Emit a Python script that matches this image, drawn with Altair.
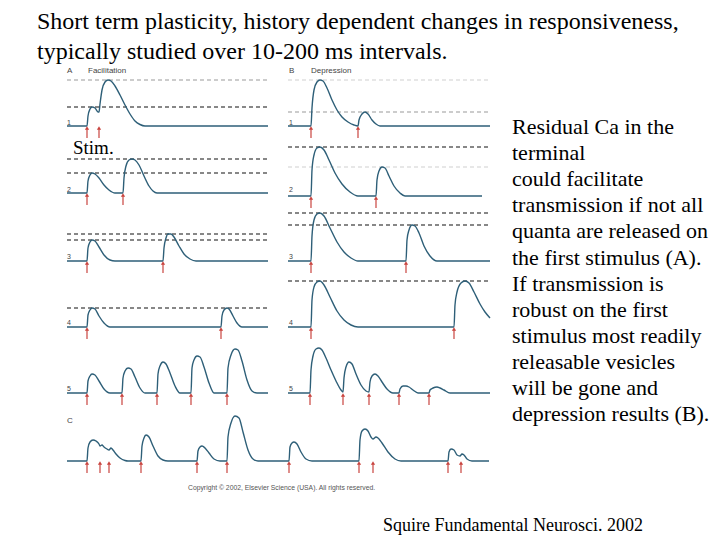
import altair as alt
import pandas as pd

# ---------------- data ----------------
TITLE_LINES = ["Short term plasticity, history dependent changes in responsiveness,",
               "typically studied over 10-200 ms intervals."]
RIGHT_LINES = ["Residual Ca in the", "terminal", "could facilitate",
               "transmission if not all", "quanta are released on",
               "the first stimulus  (A).", "If transmission is",
               "robust on the first", "stimulus most readily",
               "releasable vesicles", "will be gone and",
               "depression results (B)."]
SOURCE = "Squire Fundamental Neurosci. 2002"
COPYRIGHT = "Copyright \u00a9 2002, Elsevier Science (USA). All rights reserved."

# traces: time (x) and potential (y) samples, one list pair per trace
A1_t = [67, 87, 88, 90, 92, 95, 98, 99, 100, 102, 105, 108, 111, 115, 120, 125, 130, 135, 140, 145, 268]
A1_v = [126, 126, 116, 109, 107, 108, 112, 112, 104, 90, 82, 80, 81, 86, 95, 105, 114, 121, 124.5, 126, 126]
A2_t = [67, 87, 88, 90, 92, 95, 99, 104, 109, 115, 123, 124, 126, 129, 132, 135, 139, 144, 149, 153, 157, 268]
A2_v = [193, 193, 181, 175, 173, 174, 178, 185, 190, 193, 193, 178, 166, 160, 159, 160, 165, 176, 186, 191, 193, 193]
A3_t = [67, 87, 88, 90, 92, 95, 99, 104, 110, 115, 163, 164, 166, 168, 171, 174, 179, 184, 190, 196, 268]
A3_v = [261, 261, 248, 242, 240, 241, 247, 255, 260, 261, 261, 248, 238, 234, 234, 237, 246, 254, 259, 261, 261]
A4_t = [67, 87, 88, 90, 92, 95, 99, 104, 110, 221, 222, 224, 227, 229, 233, 237, 242, 268]
A4_v = [327, 327, 315, 310, 308, 309, 316, 323, 327, 327, 316, 310, 308, 309, 316, 323, 327, 327]
A5_t = [67, 87, 88, 90, 92, 95, 99, 104, 110, 122, 123, 125, 128, 131, 135, 140, 145, 157, 158, 160,
        163, 166, 170, 175, 180, 191, 192, 194, 197, 200, 204, 209, 214, 227, 228, 231, 235, 238,
        242, 247, 252, 257, 268]
A5_v = [393, 393, 381, 376, 374, 375, 381, 389, 393, 393, 378, 371, 368, 369, 377, 388, 393, 393, 374, 366,
        362, 364, 373, 386, 393, 393, 368, 360, 356, 357, 367, 383, 393, 393, 368, 355, 349, 350,
        361, 380, 391, 393, 393]
B1_t = [288, 311, 312, 314, 317, 320, 323, 327, 332, 337, 342, 348, 354, 358, 359, 362, 365, 368, 372, 376, 380, 490]
B1_v = [126, 126, 108, 90, 82, 80, 81, 88, 100, 110, 117, 122, 125, 126, 120, 114, 112, 114, 120, 124, 126, 126]
B2_t = [288, 311, 312, 314, 317, 320, 324, 329, 335, 342, 350, 358, 376, 377, 379, 382, 385, 389, 394, 400, 405, 482]
B2_v = [196, 196, 170, 155, 148, 147, 150, 160, 173, 184, 192, 196, 196, 180, 171, 167, 168, 176, 186, 193, 196, 196]
B3_t = [288, 311, 312, 314, 317, 320, 324, 330, 337, 344, 351, 358, 406, 407, 409, 412, 415, 419, 424, 430, 437, 490]
B3_v = [261, 261, 236, 220, 214, 213, 216, 228, 242, 252, 258, 261, 261, 240, 230, 225, 226, 233, 246, 256, 261, 261]
B4_t = [288, 311, 312, 314, 317, 320, 324, 330, 337, 344, 351, 358, 454, 455, 457, 461, 465, 469, 474, 480, 485, 490]
B4_v = [327, 327, 300, 287, 282, 281, 285, 297, 311, 320, 325, 327, 327, 305, 292, 283, 281, 283, 292, 304, 312, 318]
B5_t = [288, 310, 311, 313, 316, 319, 322, 326, 331, 336, 341, 343, 344, 346, 349, 352, 356, 361, 366, 369,
        370, 372, 375, 378, 382, 387, 393, 399, 400, 403, 406, 409, 413, 418, 429, 430, 433, 437, 440,
        444, 450, 490]
B5_v = [393, 393, 370, 356, 349, 348, 350, 358, 370, 381, 390, 392, 378, 367, 362, 364, 374, 385, 391, 392,
        382, 376, 374, 376, 382, 389, 393, 393, 389, 386, 386, 387, 390, 393, 393, 390, 388, 387, 388,
        390, 393, 393]
C_t = [67, 87, 88, 90, 93, 96, 99, 100, 102, 104, 107, 109, 111, 113, 116, 120, 125, 128, 141, 142, 144, 146,
       149, 153, 158, 163, 168, 197, 198, 200, 202, 205, 209, 214, 220, 227, 228, 231, 235, 239, 243, 248,
       253, 258, 289, 290, 292, 294, 297, 301, 306, 312, 359, 360, 362, 365, 368, 371, 373, 376, 378, 382,
       388, 395, 401, 448, 449, 451, 454, 457, 460, 462, 464, 467, 472, 489]
C_v = [461, 461, 448, 442, 440, 441, 444, 446, 445, 447, 449, 450, 448, 450, 454, 458, 460.5, 461, 461, 446, 438, 435,
       437, 446, 456, 460, 461, 461, 451, 447, 446, 448, 453, 459, 461, 461, 437, 423, 416, 418, 432, 450,
       459, 461, 461, 447, 443, 442, 444, 452, 459, 461, 461, 440, 431, 429, 431, 437, 439, 437, 438, 443,
       452, 459, 461, 461, 452, 449, 450, 455, 456, 454, 455, 459, 461, 461]

TRACES = {"A1": (A1_t, A1_v), "A2": (A2_t, A2_v), "A3": (A3_t, A3_v), "A4": (A4_t, A4_v),
          "A5": (A5_t, A5_v), "B1": (B1_t, B1_v), "B2": (B2_t, B2_v), "B3": (B3_t, B3_v),
          "B4": (B4_t, B4_v), "B5": (B5_t, B5_v), "C": (C_t, C_v)}

# stimulus times and the baseline of each trace
STIMS = {"A1": [87, 99], "A2": [87, 123], "A3": [87, 163], "A4": [87, 221],
         "A5": [87, 122, 157, 191, 227], "B1": [311, 358], "B2": [311, 376],
         "B3": [311, 406], "B4": [311, 454], "B5": [310, 343, 369, 399, 429],
         "C": [87, 100, 109, 141, 197, 227, 289, 359, 373, 448, 461]}
BASE = {"A1": 126, "A2": 193, "A3": 261, "A4": 327, "A5": 393,
        "B1": 126, "B2": 196, "B3": 261, "B4": 327, "B5": 393, "C": 461}

# reference (dashed) levels: trace, level, colour
DASH_LEVELS = [("A1", 80, "#9a9a9a"), ("A1", 107, "#111111"), ("A2", 159, "#111111"),
               ("A2", 173, "#111111"), ("A3", 234, "#111111"), ("A3", 240, "#111111"),
               ("A4", 308, "#111111"), ("B1", 80, "#d0d0d0"), ("B1", 112, "#9a9a9a"),
               ("B2", 147, "#111111"), ("B2", 167, "#d0d0d0"), ("B3", 213, "#111111"),
               ("B3", 225, "#111111"), ("B4", 281, "#111111")]
PANEL_SPAN = {"A": (67, 268), "B": (288, 490)}

# ---------------- build tables ----------------
rows = []
for name, (ts, vs) in TRACES.items():
    for i, (t, v) in enumerate(zip(ts, vs)):
        rows.append({"trace": name, "i": i, "t": t, "v": v})
trace_df = pd.DataFrame(rows)

arrow_df = pd.DataFrame([{"t": s, "tip": BASE[k] + 2, "tail": BASE[k] + 12}
                         for k, lst in STIMS.items() for s in lst])

dash_df = pd.DataFrame([{"x1": PANEL_SPAN[k[0]][0], "x2": PANEL_SPAN[k[0]][1], "y": lv, "c": c}
                        for k, lv, c in DASH_LEVELS])

XS = alt.Scale(domain=[8, 712], nice=False, zero=False)
YS = alt.Scale(domain=[8, 538], nice=False, zero=False, reverse=True)


def X(f):
    return alt.X(f, type="quantitative", scale=XS, axis=None)


def Y(f):
    return alt.Y(f, type="quantitative", scale=YS, axis=None)


dashes = alt.Chart(dash_df).mark_rule(strokeDash=[4, 3], strokeWidth=1.1).encode(
    x=X("x1"), x2="x2", y=Y("y"), color=alt.Color("c:N", scale=None))

lines = alt.Chart(trace_df).mark_line(interpolate="monotone", color="#2e5f78",
                                      strokeWidth=1.4).encode(
    x=X("t"), y=Y("v"), detail="trace:N", order="i:Q")

stems = alt.Chart(arrow_df).mark_rule(color="#c9433e", strokeWidth=1.2).encode(
    x=X("t"), y=Y("tip"), y2="tail")
heads = alt.Chart(arrow_df).mark_point(shape="triangle-up", filled=True, size=18,
                                       color="#c9433e", opacity=1).encode(
    x=X("t"), y=Y("tip"))


def text_layer(df, **kw):
    return alt.Chart(df).mark_text(align="left", baseline="alphabetic", **kw).encode(
        x=X("x"), y=Y("y"), text="s:N")


title_df = pd.DataFrame({"x": [37, 37], "y": [29, 59], "s": TITLE_LINES})
right_df = pd.DataFrame({"x": [512] * len(RIGHT_LINES),
                         "y": [134 + 26.1 * i for i in range(len(RIGHT_LINES))],
                         "s": RIGHT_LINES})
source_df = pd.DataFrame({"x": [383], "y": [531], "s": [SOURCE]})
stim_df = pd.DataFrame({"x": [73], "y": [154], "s": ["Stim."]})
small_df = pd.DataFrame({"x": [67, 88, 289, 311], "y": [73, 73, 73, 73],
                         "s": ["A", "Facilitation", "B", "Depression"]})
num_df = pd.DataFrame({"x": [67, 67, 67, 67, 67, 289, 289, 289, 289, 289],
                       "y": [125, 192, 259, 325, 391, 125, 192, 259, 325, 391],
                       "s": ["1", "2", "3", "4", "5"] * 2})
c_df = pd.DataFrame({"x": [67], "y": [423], "s": ["C"]})
copy_df = pd.DataFrame({"x": [188], "y": [490], "s": [COPYRIGHT]})

serif = "Liberation Serif"
texts = [
    text_layer(title_df, font=serif, fontSize=24, color="#000000"),
    text_layer(right_df, font=serif, fontSize=22, color="#000000"),
    text_layer(source_df, font=serif, fontSize=18, color="#000000"),
    text_layer(stim_df, font=serif, fontSize=19, color="#000000"),
    text_layer(small_df, font="Liberation Sans", fontSize=8, color="#444444"),
    text_layer(num_df, font="Liberation Sans", fontSize=7, color="#444444"),
    text_layer(c_df, font="Liberation Sans", fontSize=8, color="#444444"),
    text_layer(copy_df, font="Liberation Sans", fontSize=6.8, color="#555555"),
]

chart = alt.layer(dashes, lines, stems, heads, *texts).properties(
    width=704, height=530, padding=0, autosize=alt.AutoSizeParams(type="none"),
    background="#ffffff"
).configure_view(stroke=None)

chart.save("out.html", embed_options={"renderer": "svg", "actions": False})
